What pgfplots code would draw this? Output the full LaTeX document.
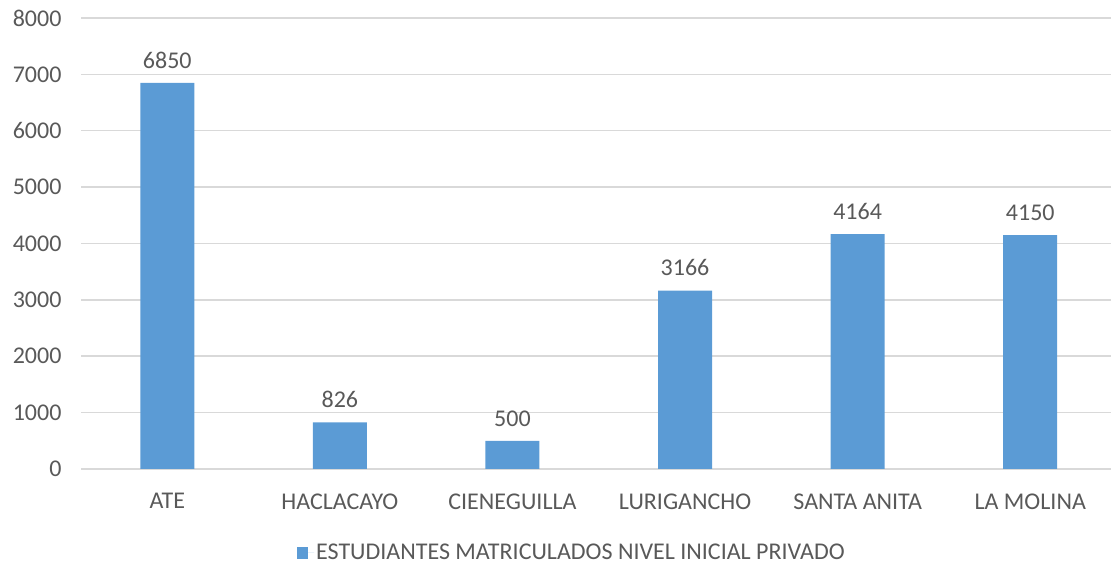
\documentclass[border=0pt]{standalone}
\usepackage{fontspec}
\setmainfont{Carlito}
\usepackage{pgfplots}
\pgfplotsset{compat=1.18}
\usetikzlibrary{calc}
\definecolor{barblue}{HTML}{5B9BD5}
\definecolor{txtgray}{HTML}{595959}
\definecolor{gridgray}{HTML}{D9D9D9}
\begin{document}
\begin{tikzpicture}
\begin{axis}[
  name=ax,
  scale only axis,
  width=1030bp, height=451bp,
  xmin=-0.5, xmax=5.468,
  ymin=0, ymax=8000,
  ytick={0,1000,...,8000},
  xtick={0,1,2,3,4,5},
  xticklabels={ATE,HACLACAYO,CIENEGUILLA,LURIGANCHO,SANTA ANITA,LA MOLINA},
  major tick length=0pt,
  axis line style={draw=none},
  ymajorgrids,
  grid style={gridgray, line width=1.5bp},
  /pgf/number format/assume math mode=true,
  /pgf/number format/1000 sep={},
  tick label style={font=\fontsize{24bp}{28bp}\selectfont, text=txtgray},
  yticklabel style={xshift=-16bp},
  xticklabel style={yshift=-21bp},
  ybar, bar width=54bp,
  nodes near coords,
  every node near coord/.append style={font=\fontsize{24bp}{28bp}\selectfont, text=txtgray, yshift=11bp},
  legend style={draw=none, at={(rel axis cs:0.4767,-0.186)}, anchor=center,
    font=\fontsize{24bp}{28bp}\selectfont, text=txtgray},
  legend image code/.code={\fill[barblue] (0bp,-6bp) rectangle (11bp,6bp); \path (0bp,0bp) -- (17bp,0bp);},
]
\addplot[fill=barblue, draw=none] coordinates {(0,6850) (1,826) (2,500) (3,3166) (4,4164) (5,4150)};
\addlegendentry{ESTUDIANTES MATRICULADOS NIVEL INICIAL PRIVADO}
\end{axis}
\pgfresetboundingbox
\path ($(ax.south west)+(-81bp,-97bp)$) rectangle ($(ax.north east)+(0bp,18bp)$);
\end{tikzpicture}
\end{document}
